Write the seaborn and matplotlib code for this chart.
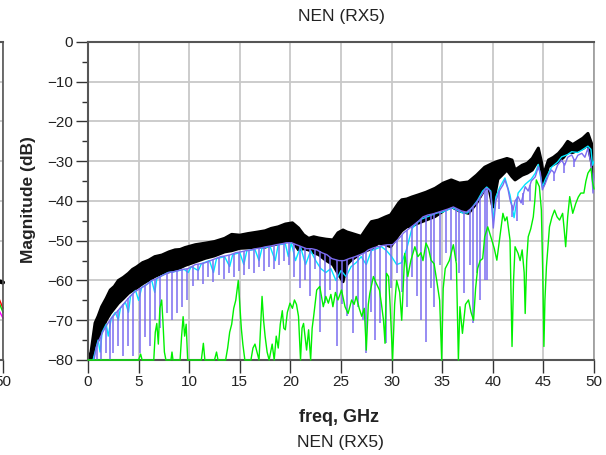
import numpy as np
import matplotlib
matplotlib.use("Agg")
import matplotlib.pyplot as plt
import seaborn as sns

# black trace drawn as a thick band (upper / lower envelope)
black_f = [0, 0.3, 0.7, 1.0, 1.35, 1.8, 2.2, 2.6, 3, 3.5, 4, 4.4, 4.8, 5.4, 6, 6.6, 7.3, 8, 8.6, 9.1,
           9.6, 10.6, 11.6, 12.5, 13.5, 14.2, 15, 15.8, 16.8, 17.5, 18.1, 18.8, 19.5, 20.2, 20.8, 21.3,
           21.8, 22.3, 22.8, 23.5, 24.2, 24.7, 25.2, 25.6, 26, 26.5, 27, 27.5, 28, 28.7, 29.4, 29.9,
           30.3, 30.7, 31, 31.5, 32, 32.6, 33.4, 34.3, 35.1, 35.9, 36.7, 37.6, 38.4, 39.2, 39.6, 40,
           40.5, 40.9, 41.4, 41.9, 42.2, 42.9, 43.4, 43.9, 44.5, 44.8, 45, 45.5, 46, 46.5, 47, 47.4,
           47.9, 48.4, 48.9, 49.4, 49.75, 50]
black_hi = [-80, -78, -70.7, -69, -66.6, -64.5, -62.4, -61.5, -60, -59.2, -58.2, -57.2, -56.6, -55.5,
            -54.9, -54, -53.6, -52.8, -52.3, -52.2, -51.7, -51, -50.6, -50.2, -49.4, -48.4, -48.6,
            -48.2, -47.8, -47.5, -46.9, -46.5, -45.8, -45.5, -46.8, -48.5, -49.4, -49, -49.3, -49.6,
            -49.8, -48, -47.3, -47.8, -48.1, -48.5, -48.9, -47, -45.2, -44.8, -44, -43.5, -42, -40.5,
            -39.7, -39.5, -39, -38.5, -37.8, -36.8, -35.5, -34.7, -35.5, -35.2, -33.5, -31.5, -31,
            -30.5, -30, -29.7, -29.3, -29.7, -32.2, -31, -30.5, -29.3, -26.7, -30.1, -33.5, -29.7,
            -29, -28, -26.5, -25, -25.8, -25, -24.2, -23, -25.5, -32]
black_lo = [-80, -80, -76.7, -75, -72.5, -70, -68.3, -67, -65.7, -64.5, -63.2, -62.5, -61.9, -60.8,
            -59.9, -59, -58.2, -57.8, -57.4, -56.8, -56.2, -55.3, -54.4, -53.8, -52.8, -52.5, -51.9,
            -51.8, -51.5, -51.6, -51.1, -50.8, -50.3, -50, -52.3, -52, -52.3, -53, -53.5, -54.9, -56,
            -58.2, -60.3, -56, -54.9, -54, -53, -52.5, -52, -50.6, -51, -51.5, -50, -48.5, -47.5,
            -46.5, -46.3, -45.6, -44.8, -43.9, -42.5, -41.4, -42.5, -43.1, -40.5, -37, -36.5, -41.5,
            -34.5, -33.5, -32.2, -33.9, -34.7, -33.5, -33, -32.2, -29.7, -33, -36, -31.3, -30.8, -30.1,
            -29, -27.6, -27.8, -27.2, -26.8, -25.9, -30, -35]

# blue trace: upper envelope line plus the narrow notches hanging from it
blue_f = [0.6, 0.8, 1.0, 1.45, 1.9, 2.3, 2.65, 3.15, 3.65, 4.15, 4.65, 5.3, 5.8, 6.3, 6.8, 7.3, 7.95,
          8.45, 8.9, 9.4, 9.9, 10.6, 11.1, 11.6, 12.1, 12.6, 13.1, 13.6, 14.1, 14.6, 15.1, 15.6, 16.1,
          16.6, 17.1, 17.6, 18.1, 18.6, 19.1, 19.6, 20.1, 20.6, 21.1, 21.6, 22.1, 22.6, 23.1, 23.6,
          24.1, 24.8, 25.3, 25.8, 26.4, 26.9, 27.35, 27.7, 28.2, 28.6, 29.1, 29.6, 30.1, 30.7, 31.2,
          31.7, 32.2, 32.7, 33.1, 33.6, 34.0, 34.4, 35.0, 35.6, 36.1, 36.5, 36.9, 37.4, 37.8, 38.2,
          38.5, 38.9, 39.3, 39.6, 39.8, 40.05, 40.3, 40.7, 41.0, 41.2, 41.5, 41.7, 42.0, 42.2, 42.5,
          42.8, 43.2, 43.5, 43.8, 44.2, 44.5, 44.7, 44.9, 45.2, 45.5, 45.8, 46.1, 46.4, 46.8, 47.1,
          47.4, 47.8, 48.1, 48.4, 48.8, 49.1, 49.4, 49.75, 49.9, 50]
blue_db = [-80, -77, -75.5, -73, -71, -69.5, -68.5, -67, -65.5, -64, -62.8, -61.8, -61, -60, -59.5,
           -58.8, -58, -57.8, -57.5, -57.2, -57, -56, -55.8, -55.5, -55, -54.5, -54, -53.8, -53.5, -53,
           -52.8, -52.5, -52.3, -52, -51.8, -51.5, -51.3, -51, -50.8, -50.5, -50.5, -51, -51.5, -52,
           -52, -52.3, -53, -53.5, -54.5, -55, -55, -54.5, -54, -53.5, -53, -52.3, -51.8, -51.5, -51.2,
           -51, -51, -49.5, -48, -47, -46, -45, -44, -43.5, -43.3, -43, -42.5, -42, -41.5, -42, -42.5,
           -42.8, -42, -41, -40, -38.5, -36.8, -37, -38, -46.8, -40, -37.2, -36, -34.7, -37, -39.7,
           -42.3, -40, -38.9, -40.5, -36.4, -37.5, -35, -33.9, -31.4, -33, -37.2, -35.5, -33.5, -32.2,
           -33, -31, -29.7, -31, -29, -28.4, -30, -28.5, -28, -29, -26.7, -31.4, -38, -33]
notch_f = [0.86, 1.3, 1.75, 2.17, 2.5, 3.0, 3.49, 3.98, 4.48, 5.14, 5.63, 6.13, 6.62, 7.1, 7.77, 8.27,
           8.76, 9.26, 9.75, 10.4, 10.9, 11.4, 11.9, 12.4, 12.9, 13.4, 13.9, 14.4, 14.9, 15.4, 15.9,
           16.4, 16.9, 17.4, 17.9, 18.4, 18.9, 19.4, 19.9, 20.4, 20.9, 21.4, 21.9, 22.4, 22.9, 23.4,
           23.9, 24.6, 25.1, 25.6, 26.2, 26.7, 27.2, 27.5, 28.0, 28.4, 28.9, 29.4, 29.9, 30.5, 31.0,
           31.5, 32.0, 32.5, 32.9, 33.4, 33.9, 34.2, 34.8, 35.4, 35.9, 36.4, 36.7, 37.2, 37.7, 38.0,
           38.4, 38.7, 39.2, 39.4, 40.6, 41.85, 42.35, 43.0, 43.65, 46.0, 47.0, 48.0]
notch_lo = [-80, -80, -78.3, -80, -78.3, -76.6, -79, -76.6, -79, -78.3, -74.1, -76.6, -69.9, -72, -68.3,
            -69.9, -68.3, -66.6, -64.9, -61.5, -60, -61, -59, -60.5, -58.5, -59.5, -58, -59, -57.5,
            -58.5, -57, -58, -56.5, -57.5, -56.5, -57, -56, -55, -56, -59, -62, -60, -64, -57, -73,
            -65.7, -62.4, -76.6, -66, -69, -73.3, -66.6, -70, -78.3, -68, -75, -70.8, -75.8, -62, -58,
            -63, -66.6, -59, -64, -70, -75.4, -62, -66.6, -56, -53, -60, -55, -58, -63.2, -56, -70.8,
            -58, -65, -60, -60, -42, -44, -45, -41, -40, -35, -33, -31.5]
notch_hi = [-76.5, -74, -72, -70, -69, -67.5, -66, -64.5, -63.2, -62, -61.3, -60.3, -59.7, -59, -58.2,
            -57.9, -57.6, -57.3, -57, -56.3, -55.9, -55.6, -55.2, -54.7, -54.2, -53.9, -53.6, -53.2,
            -52.9, -52.6, -52.4, -52.1, -51.9, -51.6, -51.4, -51.1, -50.9, -50.6, -50.5, -50.8, -51.3,
            -51.8, -52, -52.2, -52.7, -53.3, -54, -54.8, -55, -54.7, -54.2, -53.7, -53.2, -52.8, -52,
            -51.6, -51.3, -51.1, -51, -50, -48.5, -47.4, -46.4, -45.4, -44.5, -43.7, -43.4, -43.2,
            -42.7, -42.2, -41.7, -41.8, -42.2, -42.7, -42.3, -41.5, -40.3, -39.2, -37.2, -36.8, -37.5,
            -41, -39.5, -38, -36, -32.6, -30.5, -29.5]

cyan_f = [0.5, 0.8, 1.0, 1.2, 1.4, 1.8, 2.0, 2.3, 2.7, 3.0, 3.2, 3.7, 4.0, 4.2, 4.7, 5.0, 5.3, 5.8, 6.3,
          6.6, 6.8, 7.3, 7.9, 8.5, 9.0, 9.5, 9.9, 10.2, 10.9, 11.2, 12.0, 12.4, 12.7, 13.5, 14.0, 14.3,
          15.0, 15.4, 15.7, 16.5, 16.9, 17.2, 18.0, 18.5, 18.8, 19.5, 19.8, 20.1, 20.5, 21.0, 21.5, 22.0,
          22.5, 23.0, 23.5, 24.0, 24.5, 25.0, 25.5, 26.0, 26.5, 27.0, 27.5, 28.0, 28.5, 29.0, 29.5, 30.0,
          30.5, 31.0, 31.5, 32.0, 32.5, 33.0, 33.5, 34.0, 34.5, 35.0, 35.5, 36.0, 36.5, 37.0, 37.5, 38.0,
          38.5, 39.0, 39.4, 39.8, 40.05, 40.3, 40.7, 41.2, 41.7, 42.1, 42.5, 43.2, 43.8, 44.2, 44.5,
          44.9, 45.2, 45.8, 46.4, 46.8, 47.4, 47.8, 48.4, 48.8, 49.4, 49.7, 49.85, 50]
cyan_db = [-80, -77, -75, -78, -73, -71, -74, -69.5, -68, -70, -67, -65.5, -68, -64, -62.5, -65, -61.8,
           -61, -60, -63, -59.5, -58.8, -58, -57.8, -57.5, -57.2, -58, -56.5, -57.5, -55.8, -55, -58,
           -54.5, -54, -56.5, -53.5, -53, -56, -52.5, -52.2, -55, -51.8, -51.5, -55, -51, -50.8, -54,
           -50.5, -55, -51.5, -56, -52.5, -55, -57, -58, -57, -60, -57.5, -59, -56.5, -55.5, -54, -56,
           -52.5, -52, -51.5, -52.5, -54, -56, -55.5, -52, -47, -45.5, -44.5, -44, -43.5, -43, -42.8,
           -42.3, -41.7, -42.3, -43, -43, -41.5, -39.8, -37.5, -36.5, -37.5, -45, -39, -36.5, -34.2,
           -38.5, -44.2, -38, -35.8, -34.5, -33, -30.8, -36.5, -34.5, -31.5, -30.2, -28.9, -28.3, -27.6,
           -27.8, -27.2, -26.2, -27, -31, -30]

green_f = [0, 5.0, 5.2, 5.35, 6.5, 6.65, 6.8, 6.95, 7.1, 7.28, 7.4, 7.55, 7.7, 8.2, 8.3, 8.4, 9.1, 9.25,
           9.4, 9.55, 9.7, 9.85, 11.2, 11.4, 11.55, 12.5, 12.7, 12.85, 13.6, 13.8, 14.0, 14.2, 14.4,
           14.6, 14.85, 15.0, 15.15, 15.3, 15.5, 16.1, 16.3, 16.5, 16.7, 16.9, 17.05, 17.2, 17.35, 17.5,
           17.7, 17.9, 18.2, 18.4, 18.6, 18.8, 19.0, 19.2, 19.35, 19.5, 19.7, 19.96, 20.2, 20.4, 20.6,
           20.8, 21.0, 21.15, 21.3, 21.6, 21.8, 22.0, 22.15, 22.3, 22.6, 22.9, 23.25, 23.5, 23.75, 24.0,
           24.2, 24.45, 24.7, 25.05, 25.4, 25.7, 26.05, 26.3, 26.5, 26.8, 27.05, 27.3, 27.5, 27.7, 27.85,
           28.2, 28.5, 28.8, 29.0, 29.2, 29.35, 29.5, 29.7, 29.85, 30.1, 30.3, 30.5, 30.8, 31.0, 31.3,
           31.6, 31.9, 32.3, 32.6, 32.9, 33.1, 33.4, 33.65, 33.9, 34.2, 34.5, 34.75, 34.95, 35.1, 35.3,
           35.7, 36.1, 36.4, 36.6, 36.75, 37.0, 37.3, 37.6, 37.85, 38.1, 38.3, 38.5, 38.75, 39.0, 39.2,
           39.5, 39.9, 40.15, 40.4, 40.7, 41.0, 41.2, 41.4, 41.7, 41.9, 42.05, 42.2, 42.5, 42.7, 42.9,
           43.1, 43.2, 43.35, 43.5, 43.75, 44.0, 44.15, 44.3, 44.6, 44.8, 44.95, 45.05, 45.15, 45.3, 45.6,
           45.85, 46.1, 46.35, 46.6, 46.9, 47.05, 47.2, 47.4, 47.6, 47.9, 48.2, 48.45, 48.7, 49.0, 49.2,
           49.4, 49.7, 49.85, 50]
green_db = [-80, -80, -78.5, -80, -80, -73, -70.8, -76, -67, -64.9, -70, -78, -80, -80, -78, -80, -80, -74,
            -69.1, -74, -71, -80, -80, -75.8, -80, -80, -78, -80, -80, -77, -73, -71, -67, -65, -60, -66,
            -72, -76, -80, -80, -77, -76, -78, -80, -72, -64, -70, -74, -78, -80, -76, -80, -74, -77, -71,
            -67.6, -72, -72.4, -68, -65.7, -67, -64.9, -66, -69, -80, -72, -70.8, -77.5, -72.4, -80, -72,
            -69, -62.4, -61.5, -66.6, -64, -65.7, -63.5, -66.6, -63, -64.9, -62.4, -66.6, -68.3, -64.9,
            -66, -64, -67, -69, -67, -77.5, -66, -63.2, -59, -60.8, -62.4, -66, -70, -75.8, -58.2, -59,
            -66, -80, -66, -60, -63, -70, -53.2, -59, -55, -51.5, -54, -53, -55, -50.6, -52, -54.9, -55.8,
            -60.7, -65, -80, -62, -57, -55, -51, -55.8, -80, -66.6, -73.3, -66, -64.9, -68, -70, -62, -57,
            -55, -54.5, -49, -46.5, -49.8, -52, -54.9, -49, -43.1, -45, -44, -49.8, -76.6, -60, -51.5,
            -53.2, -55, -52.3, -58, -68.3, -55, -49, -47, -44, -40, -34.7, -36.4, -42.3, -60, -76.6, -65,
            -56.5, -46.5, -44, -42.3, -44, -44.8, -43.1, -47, -51.5, -44, -38.9, -43.1, -40.6, -39, -38,
            -38, -35, -33, -31.8, -35, -37]

# right edge of the neighbouring chart (cut off at the left border)
left_f = [49.2, 49.6, 50]
left_black = [-60, -60.2, -60.5]
left_red = [-63.5, -64.5, -67]
left_green = [-66, -65.5, -68]
left_magenta = [-68.5, -67.5, -69.5]

x_ticks = list(range(0, 51, 5))
y_ticks = list(range(-80, 1, 10))

sns.set_theme(style="white")
plt.rcParams["font.family"] = ["Liberation Sans", "DejaVu Sans"]

fig = plt.figure(figsize=(6.06, 4.55), dpi=100)


def style_axes(a):
    a.set_xlim(0, 50)
    a.set_ylim(-80, 0)
    a.set_xticks(x_ticks)
    a.set_yticks(y_ticks)
    a.set_yticks(np.arange(-75, 0, 10), minor=True)
    a.grid(True, which="major", color="#c8c8c8", linewidth=1.3)
    a.set_axisbelow(True)
    a.tick_params(axis="both", which="major", direction="out", length=9, width=1,
                  color="#333333", labelsize=11, labelcolor="#222222", pad=2,
                  bottom=True, left=True)
    a.tick_params(axis="y", which="minor", direction="out", length=4.5, width=1,
                  color="#333333", left=True)
    for side in ["top", "left", "bottom"]:
        a.spines[side].set_color("#555555")
        a.spines[side].set_linewidth(1.5)
    a.spines["right"].set_color("#999999")
    a.spines["right"].set_linewidth(1.2)
    a.set_xlabel("")
    a.set_ylabel("")


ax0 = fig.add_axes([0.00495 - 0.835, 0.2088, 0.835, 0.6989])
sns.lineplot(x=left_f, y=left_magenta, ax=ax0, color="#ff00ff", linewidth=1, clip_on=False)
sns.lineplot(x=left_f, y=left_green, ax=ax0, color="#00e000", linewidth=1, clip_on=False)
sns.lineplot(x=left_f, y=left_red, ax=ax0, color="#ff0000", linewidth=1, clip_on=False)
sns.lineplot(x=left_f, y=left_black, ax=ax0, color="black", linewidth=3, clip_on=False)
style_axes(ax0)
ax0.spines["right"].set_color("#555555")
ax0.set_yticklabels([])
ax0.set_xticklabels([""] * (len(x_ticks) - 1) + ["50"])

ax = fig.add_axes([0.1452, 0.2088, 0.835, 0.6989])
ax.fill_between(black_f, black_lo, black_hi, color="black", linewidth=0, zorder=2)
sns.lineplot(x=black_f, y=black_hi, ax=ax, color="black", linewidth=2.2, zorder=2, estimator=None)
sns.lineplot(x=black_f, y=black_lo, ax=ax, color="black", linewidth=2.2, zorder=2, estimator=None)
sns.lineplot(x=cyan_f, y=cyan_db, ax=ax, color="#00e5ff", linewidth=1, zorder=3, estimator=None)
ax.vlines(notch_f, notch_lo, notch_hi, color="#7b6cf0", linewidth=1.1, zorder=4)
sns.lineplot(x=blue_f, y=blue_db, ax=ax, color="#7b6cf0", linewidth=1, zorder=4, estimator=None)
sns.lineplot(x=green_f, y=green_db, ax=ax, color="#00f000", linewidth=1, zorder=5,
             estimator=None, clip_on=False)
style_axes(ax)

fig.text(341 / 606, 1 - 17 / 455, "NEN (RX5)", ha="center", va="center", fontsize=12.5, color="#222222")
fig.text(339 / 606, 1 - 418 / 455, "freq, GHz", ha="center", va="center", fontsize=13,
         fontweight="bold", color="#222222")
fig.text(340 / 606, 1 - 443 / 455, "NEN (RX5)", ha="center", va="center", fontsize=12.5, color="#222222")
fig.text(29 / 606, 1 - 200 / 455, "Magnitude (dB)", ha="center", va="center", rotation=90,
         fontsize=12.5, fontweight="bold", color="#222222")

fig.savefig("out.png", dpi=100)
